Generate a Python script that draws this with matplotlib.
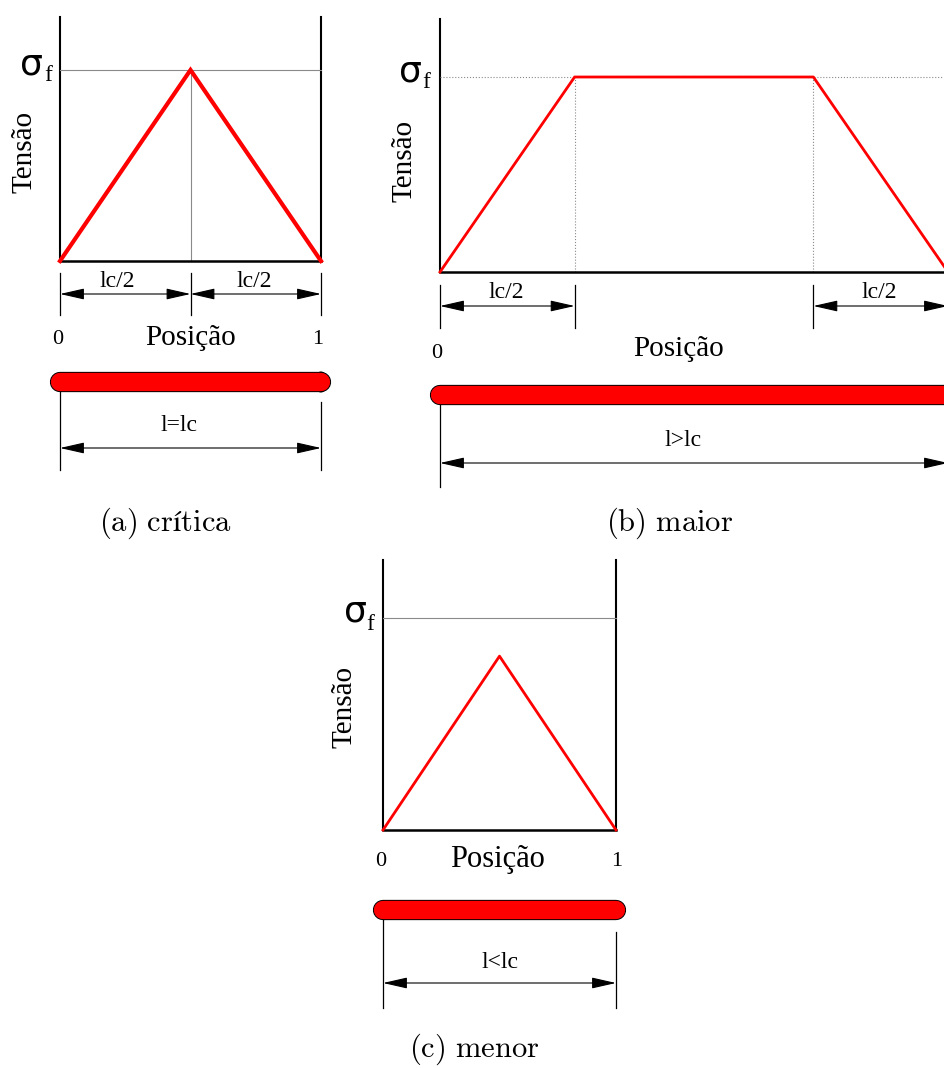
import matplotlib.pyplot as plt
from matplotlib.patches import Ellipse

# stress profiles along the fibre (position 0..1, stress in units of sigma_f)
pos_a = [0, 0.5, 1]
stress_a = [0, 1, 0]
pos_b = [0, 0.265, 0.735, 1]
stress_b = [0, 1, 1, 0]
pos_c = [0, 0.5, 1]
stress_c = [0, 0.82, 0]
sigma_f = 1.0

# dimension marks (lc/2 segments)
dim_a = [0, 0.5, 1]
dim_b = [0, 0.265, 0.735, 1]
dim_text_a = [0.22, 0.745]
dim_text_b = [0.13, 0.864]

captions = [r'$\mathrm{(a)\ crítica}$', r'$\mathrm{(b)\ maior}$',
            r'$\mathrm{(c)\ menor}$']
len_labels = ['l=lc', 'l>lc', 'l<lc']

plt.rcParams['mathtext.fontset'] = 'cm'
W, H = 944, 1068
fig = plt.figure(figsize=(W / 100, H / 100), dpi=100)
SERIF = 'Liberation Serif'


def panel(x0, x1, y0, y1):
    # axes over the whole figure: data (0,0) at pixel (x0,y0), (1,1) at (x1,y1)
    ax = fig.add_axes([0, 0, 1, 1])
    sx = x1 - x0
    sy = y0 - y1
    ax.set_xlim(-x0 / sx, (W - x0) / sx)
    ax.set_ylim(-(H - y0) / sy, y0 / sy)
    ax.axis('off')
    ax.patch.set_visible(False)
    fx = lambda px: (px - x0) / sx
    fy = lambda py: (y0 - py) / sy
    return ax, fx, fy


def dim_line(ax, a, b, y):
    ax.annotate('', xy=(b, y), xytext=(a, y), annotation_clip=False,
                arrowprops=dict(arrowstyle='<|-|>,head_length=0.75,head_width=0.17',
                                mutation_scale=20, lw=0.8, color='k',
                                shrinkA=0, shrinkB=0))


def rod(ax, y):
    ax.plot([0, 1], [y, y], color='k', lw=14.6, solid_capstyle='round')
    ax.plot([0, 1], [y, y], color='red', lw=13.2, solid_capstyle='round')


def labels(ax, fx, fy, tens_xy, sig_xy, f_xy):
    ax.text(fx(tens_xy[0]), fy(tens_xy[1]), 'Tensão', rotation=90, ha='center',
            va='center', fontsize=21, family=SERIF)
    ax.text(fx(sig_xy[0]), fy(sig_xy[1]), 'σ', ha='center', va='center',
            fontsize=26, family='DejaVu Sans')
    ax.text(fx(f_xy[0]), fy(f_xy[1]), 'f', ha='center', va='center',
            fontsize=17, family=SERIF)


# ---------------- (a) crítica ----------------
ax, fx, fy = panel(60, 321, 261, 70)
top = fy(17)
ax.plot([0, 0], [0, top], color='k', lw=1.5)
ax.plot([1, 1], [0, top], color='k', lw=1.5)
ax.plot([0, 1], [sigma_f, sigma_f], color='#8a8a8a', lw=0.8)
ax.plot([0.5, 0.5], [0, sigma_f], color='#8a8a8a', lw=0.8)
ax.plot([0, 1], [0, 0], color='k', lw=1.8)
ax.plot(pos_a, stress_a, color='red', lw=3.0, solid_joinstyle='miter')
labels(ax, fx, fy, (25, 152), (31, 64), (48, 75))
for m in dim_a:
    ax.plot([m, m], [fy(273), fy(315)], color='k', lw=0.9)
for a, b in zip(dim_a[:-1], dim_a[1:]):
    dim_line(ax, a, b, fy(294))
for t in dim_text_a:
    ax.text(t, fy(281), 'lc/2', ha='center', va='center', fontsize=17, family=SERIF)
ax.text(fx(58), fy(339), '0', ha='center', va='center', fontsize=16, family=SERIF)
ax.text(fx(318), fy(339), '1', ha='center', va='center', fontsize=16, family=SERIF)
ax.text(0.5, fy(338), 'Posição', ha='center', va='center', fontsize=21, family=SERIF)
rod(ax, fy(382))
ax.add_patch(Ellipse((1.0, fy(382)), 13 / 261, 20 / 191, fill=False, ec='k', lw=0.7))
ax.plot([0, 0], [fy(392), fy(470)], color='k', lw=0.9)
ax.plot([1, 1], [fy(402), fy(470)], color='k', lw=0.9)
dim_line(ax, 0, 1, fy(448))
ax.text(fx(179), fy(425), len_labels[0], ha='center', va='center', fontsize=17, family=SERIF)

# ---------------- (b) maior ----------------
ax, fx, fy = panel(440, 948, 272, 77)
top = fy(19)
ax.plot([0, 0], [0, top], color='k', lw=1.5)
ax.plot([0, 1], [sigma_f, sigma_f], color='#8a8a8a', lw=0.8, ls=':')
for m in pos_b[1:3]:
    ax.plot([m, m], [0, sigma_f], color='#8a8a8a', lw=0.8, ls=':')
ax.plot([0, 1], [0, 0], color='k', lw=1.8)
ax.plot(pos_b, stress_b, color='red', lw=2.0)
labels(ax, fx, fy, (404, 161), (410, 71), (426, 82))
for m in dim_b:
    ax.plot([m, m], [fy(285), fy(328)], color='k', lw=0.9)
for a, b in [(dim_b[0], dim_b[1]), (dim_b[2], dim_b[3])]:
    dim_line(ax, a, b, fy(306))
for t in dim_text_b:
    ax.text(t, fy(292), 'lc/2', ha='center', va='center', fontsize=17, family=SERIF)
ax.text(fx(437), fy(353), '0', ha='center', va='center', fontsize=16, family=SERIF)
ax.text(fx(679), fy(349), 'Posição', ha='center', va='center', fontsize=21, family=SERIF)
rod(ax, fy(395))
ax.plot([0, 0], [fy(405), fy(487)], color='k', lw=0.9)
dim_line(ax, 0, 1, fy(463))
ax.text(fx(683), fy(440), len_labels[1], ha='center', va='center', fontsize=17, family=SERIF)

# ---------------- (c) menor ----------------
ax, fx, fy = panel(383, 616, 830, 618)
top = fy(560)
ax.plot([0, 0], [0, top], color='k', lw=1.5)
ax.plot([1, 1], [0, top], color='k', lw=1.5)
ax.plot([0, 1], [sigma_f, sigma_f], color='#8a8a8a', lw=0.8)
ax.plot([0, 1], [0, 0], color='k', lw=1.8)
ax.plot(pos_c, stress_c, color='red', lw=2.0)
labels(ax, fx, fy, (345, 707), (355, 612), (370, 625))
ax.text(fx(381), fy(861), '0', ha='center', va='center', fontsize=16, family=SERIF)
ax.text(fx(617), fy(861), '1', ha='center', va='center', fontsize=16, family=SERIF)
ax.text(fx(498), fy(860), 'Posição', ha='center', va='center', fontsize=22, family=SERIF)
rod(ax, fy(910))
ax.plot([0, 0], [fy(920), fy(1008)], color='k', lw=0.9)
ax.plot([1, 1], [fy(932), fy(1008)], color='k', lw=0.9)
dim_line(ax, 0, 1, fy(983))
ax.text(fx(500), fy(962), len_labels[2], ha='center', va='center', fontsize=17, family=SERIF)

# captions
cap_xy = [(165, 523), (670, 523), (474, 1049)]
for (cx, cy), cap in zip(cap_xy, captions):
    fig.text(cx / W, 1 - cy / H, cap, ha='center', va='center', fontsize=22)

fig.savefig('out.png', dpi=100)
